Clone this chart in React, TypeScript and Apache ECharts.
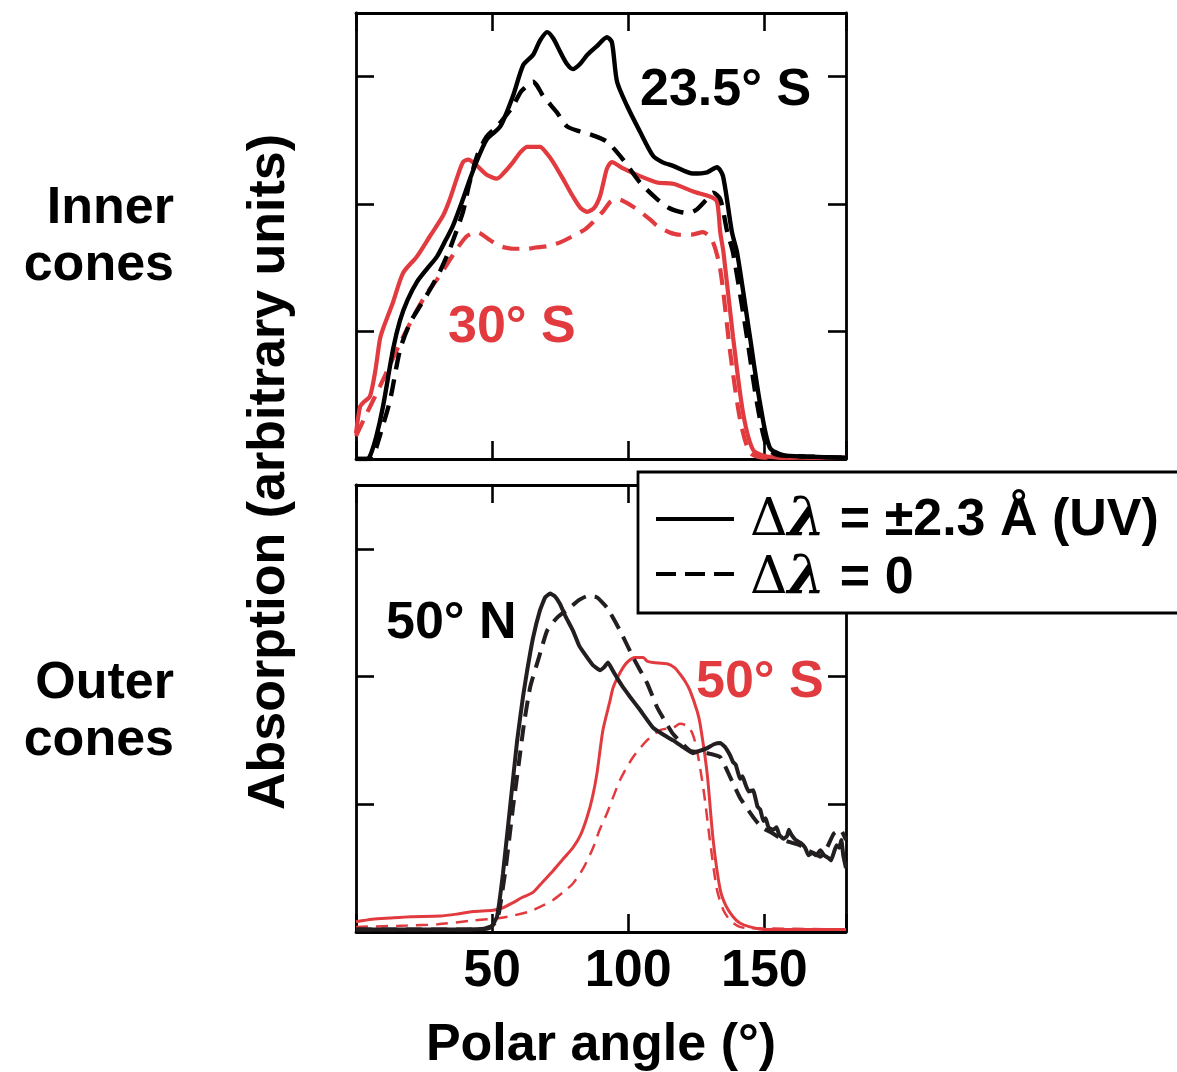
import React, { useEffect, useRef } from "react";
import * as echarts from "echarts";

// ---- data (polar angle in degrees, absorption in arbitrary units) ----
const xTicks = [0, 50, 100, 150];
const yTicks = [0, 1, 2, 3];

const inner23Solid: [number, number][] = [
  [0, 0], [4, 0], [5.1, 0.02], [7.5, 0.18], [9.9, 0.41], [13.6, 0.86], [16.2, 1.09], [19, 1.25],
  [22.4, 1.39], [26, 1.49], [29.8, 1.59], [33, 1.72], [35.6, 1.83], [39.3, 2.04], [41.9, 2.2], [45, 2.37],
  [48.1, 2.51], [53, 2.61], [57.7, 2.85], [61.4, 3.09], [65, 3.17], [67.5, 3.28], [70.2, 3.35], [72.5, 3.3],
  [74.9, 3.2], [77.5, 3.1], [79.7, 3.06], [82.3, 3.1], [84.9, 3.17], [88.5, 3.24], [92.2, 3.31], [94, 3.27],
  [95.9, 2.96], [99.6, 2.77], [104.3, 2.57], [109.1, 2.38], [112.5, 2.33], [116.5, 2.3], [123.8, 2.24],
  [129, 2.25], [132.6, 2.29], [134.8, 2.22], [138.1, 1.78], [140, 1.62], [144.7, 0.96], [148.4, 0.44],
  [152, 0.09], [157, 0.03], [165, 0.02], [180, 0.01],
];
const inner23Dash: [number, number][] = [
  [0, 0], [5, 0], [6.5, 0.03], [9, 0.2], [12.5, 0.46], [16.2, 0.86], [19.9, 1.07], [23.5, 1.2], [27.2, 1.33],
  [31, 1.48], [34.5, 1.65], [39.3, 1.94], [41.5, 2.15], [44.5, 2.38], [48, 2.53], [51.8, 2.61], [54.5, 2.68],
  [57.7, 2.77], [60.5, 2.88], [62.9, 2.93], [65, 2.96], [66.5, 2.93], [68.7, 2.85], [73.8, 2.72], [77.5, 2.61],
  [82.3, 2.57], [87, 2.54], [92.2, 2.49], [98.1, 2.35], [104.3, 2.17], [110.6, 2.04], [115, 1.97], [119, 1.94],
  [122, 1.93], [125.3, 1.96], [128.5, 2.03], [131.2, 2.09], [133.8, 2.04], [136.4, 1.78], [138.5, 1.62],
  [143.6, 0.96], [147.3, 0.44], [151, 0.09], [155, 0.03], [165, 0.02], [180, 0.01],
];
const inner30Solid: [number, number][] = [
  [0, 0.2], [1.5, 0.41], [3, 0.45], [5.1, 0.49], [7, 0.68], [8.8, 0.94], [9.9, 1.02], [13.6, 1.23],
  [17.3, 1.46], [22.4, 1.59], [27.2, 1.75], [32, 1.91], [34.5, 2.04], [37, 2.2], [39.3, 2.33], [41.2, 2.35],
  [44.5, 2.3], [48, 2.23], [51.8, 2.2], [54.5, 2.25], [57.7, 2.33], [60.5, 2.41], [62.9, 2.45], [67.6, 2.45],
  [70, 2.4], [72.4, 2.33], [76, 2.2], [79.7, 2.06], [82.5, 1.97], [84.9, 1.94], [87.5, 1.97], [89.6, 2.06],
  [91, 2.18], [92.2, 2.28], [94, 2.33], [98.1, 2.28], [104.3, 2.22], [110.6, 2.17], [116.5, 2.16],
  [123.8, 2.1], [130, 2.06], [132.6, 2.02], [133.8, 1.78], [135, 1.62], [138.5, 0.96], [142.2, 0.36],
  [145.9, 0.07], [151, 0.02], [160, 0.01], [180, 0.01],
];
const inner30Dash: [number, number][] = [
  [0, 0.18], [4, 0.36], [8.8, 0.57], [12.5, 0.74], [16.2, 0.91], [22.4, 1.17], [26, 1.3], [29.8, 1.41],
  [33.5, 1.53], [37.1, 1.65], [40.8, 1.75], [44.5, 1.78], [49, 1.72], [53, 1.67], [58, 1.65], [62.9, 1.65],
  [66, 1.66], [70.2, 1.67], [75, 1.7], [79.7, 1.75], [84, 1.8], [87.1, 1.86], [91, 1.95], [93.5, 2.02],
  [95.9, 2.04], [101.8, 1.98], [108, 1.88], [110.6, 1.83], [115, 1.78], [119, 1.76], [123, 1.76],
  [127.5, 1.78], [130.8, 1.72], [133.8, 1.49], [137.5, 0.83], [141.1, 0.31], [144.7, 0.05], [150, 0.01], [180, 0.01],
];

const outer50NSolid: [number, number][] = [
  [0, 0.02], [20, 0.02], [40, 0.02], [47, 0.025], [50, 0.05], [51.8, 0.12], [54, 0.46], [56.6, 0.98],
  [59.2, 1.5], [61.4, 1.85], [62.9, 2.05], [65, 2.3], [67.6, 2.52], [69.5, 2.62], [71.3, 2.65], [73, 2.63],
  [74.9, 2.57], [77, 2.47], [79.7, 2.36], [82, 2.24], [84.9, 2.15], [87, 2.09], [89.6, 2.05], [91, 2.07],
  [92.6, 2.11], [94, 2.06], [95.9, 1.99], [98, 1.92], [100.7, 1.84], [104.3, 1.74], [109.1, 1.6], [112.5, 1.55],
  [116.5, 1.5], [120, 1.45], [123.8, 1.4], [126.5, 1.42], [129, 1.44], [131.5, 1.47], [133.8, 1.48],
  [135.5, 1.45], [137.5, 1.38], [138.5, 1.33], [139.5, 1.31], [141.1, 1.2], [142, 1.22], [143, 1.16],
  [144.2, 1.1], [145.9, 1.11], [147.5, 0.98], [148.5, 0.96], [149.6, 0.87], [150.5, 0.89], [151.5, 0.82],
  [153.3, 0.8], [154.5, 0.82], [155.5, 0.76], [157, 0.73], [158.3, 0.75], [159, 0.8], [160, 0.76],
  [161.5, 0.72], [163.2, 0.7], [165, 0.66], [166.2, 0.6], [167.5, 0.62], [169, 0.6], [170.6, 0.64],
  [172, 0.6], [173.5, 0.58], [174.5, 0.56], [175.5, 0.62], [176.5, 0.68], [177.5, 0.66], [178.3, 0.72],
  [179, 0.6], [180, 0.5],
];
const outer50NDash: [number, number][] = [
  [0, 0.02], [45, 0.02], [49, 0.03], [51, 0.07], [52.5, 0.15], [55, 0.5], [57.7, 0.98], [60, 1.35],
  [61.7, 1.63], [64, 1.92], [67.2, 2.15], [70.2, 2.36], [73.8, 2.46], [78.6, 2.54], [82, 2.6], [84.9, 2.63],
  [88.5, 2.62], [92.2, 2.54], [97, 2.36], [101.8, 2.15], [106.9, 1.95], [110.6, 1.76], [113, 1.67],
  [116.5, 1.55], [122.7, 1.42], [129, 1.4], [133.8, 1.37], [137.5, 1.21], [141.1, 1.05], [145.9, 0.9],
  [149, 0.82], [153.3, 0.77], [157, 0.72], [160, 0.7], [163, 0.68], [165.7, 0.64], [168, 0.62], [170.6, 0.59],
  [173, 0.66], [175.5, 0.77], [178, 0.8], [180, 0.72],
];
const outer50SSolid: [number, number][] = [
  [0, 0.08], [6, 0.1], [12.5, 0.11], [20, 0.12], [30.9, 0.125], [37, 0.14], [43, 0.16], [50.3, 0.17],
  [54, 0.19], [57.7, 0.23], [61, 0.27], [65, 0.31], [68.5, 0.39], [72.4, 0.48], [76, 0.57], [79.7, 0.66],
  [82.5, 0.76], [84.9, 0.9], [86.8, 1.05], [88.5, 1.24], [90.7, 1.58], [93.3, 1.81], [94.4, 1.91], [96, 1.99],
  [98.1, 2.07], [100, 2.12], [102.5, 2.15], [105.5, 2.15], [107, 2.12], [109.1, 2.11], [114.3, 2.1],
  [117, 2.07], [119, 2.02], [121, 1.96], [122.7, 1.89], [125.3, 1.73], [126.4, 1.63], [129, 1.24],
  [131.2, 0.72], [133.8, 0.33], [136, 0.2], [138.5, 0.12], [141, 0.07], [144.7, 0.04], [150, 0.02], [180, 0.02],
];
const outer50SDash: [number, number][] = [
  [0, 0.04], [18.7, 0.05], [30, 0.06], [43, 0.09], [53, 0.11], [58, 0.13], [63.6, 0.16], [68, 0.2],
  [72.4, 0.25], [76, 0.31], [79.7, 0.38], [83.5, 0.5], [87.1, 0.66], [89.5, 0.8], [92.2, 0.93], [97, 1.19],
  [101.8, 1.37], [106.9, 1.5], [111.7, 1.58], [116.5, 1.6], [119, 1.63], [121, 1.62], [122.7, 1.59],
  [124, 1.53], [125.3, 1.42], [127.7, 1.11], [130, 0.72], [132.6, 0.33], [135, 0.17], [137.5, 0.09],
  [141, 0.04], [145, 0.03], [180, 0.02],
];

const panelLabels = ["23.5° S", "30° S", "50° N", "50° S"];
const rowLabels = ["Inner\ncones", "Outer\ncones"];
const legendLabels = [" = ±2.3 Å (UV)", " = 0"];

const RED = "#e23b3f";
const BLACK = "#000000";
const FONT = "'Liberation Sans', Arial, Helvetica, sans-serif";

export default function App() {
  const ref = useRef<HTMLDivElement>(null);
  useEffect(() => {
    if (!ref.current) return;
    const chart = echarts.init(ref.current, null, { renderer: "svg" });

    const axisLine = { show: true, onZero: false, lineStyle: { color: BLACK, width: 2.8 } };
    const axisTick = { show: true, inside: true, length: 18, lineStyle: { color: BLACK, width: 2.6 } };
    const xBase = (grid: number, position: string, labels: boolean) => ({
      type: "value", gridIndex: grid, position, min: 0, max: 180, interval: 50,
      axisLine, axisTick, splitLine: { show: false },
      axisLabel: labels
        ? { show: true, margin: 10, fontFamily: FONT, fontWeight: "bold", fontSize: 52, color: BLACK,
            formatter: (v: number) => (xTicks.includes(v) && v !== 0 ? String(v) : "") }
        : { show: false },
    });
    const yBase = (grid: number, position: string) => ({
      type: "value", gridIndex: grid, position, min: yTicks[0], max: 3.5, interval: 1,
      axisLine, axisTick, splitLine: { show: false }, axisLabel: { show: false },
    });

    const line = (data: [number, number][], color: string, width: number, dash: number[] | null, grid: number, smooth = 0.25) => ({
      type: "line", data, xAxisIndex: grid === 0 ? 0 : 2, yAxisIndex: grid === 0 ? 0 : 2,
      showSymbol: false, symbol: "none", smooth,
      lineStyle: { color, width, type: dash ? dash : "solid" },
    });

    const bigText = (text: string, x: number, y: number, color: string, align = "left") => ({
      type: "text", x, y, z: 100,
      style: { text, fill: color, font: `bold 52px ${FONT}`, textAlign: align, textVerticalAlign: "middle" },
    });

    const legendRich = {
      d: { fontFamily: "'DejaVu Serif', serif", fontSize: 52, color: BLACK, lineHeight: 46 },
      l: { fontFamily: "'DejaVu Serif', serif", fontSize: 54, fontWeight: "bold", fontStyle: "italic", color: BLACK, lineHeight: 46 },
      t: { fontFamily: FONT, fontSize: 52, fontWeight: "bold", color: BLACK, lineHeight: 46 },
    };

    chart.setOption({
      animation: false,
      backgroundColor: "#ffffff",
      grid: [
        { left: 356, top: 13, width: 490, height: 446 },
        { left: 356, top: 485, width: 490, height: 447 },
      ],
      xAxis: [xBase(0, "bottom", false), xBase(0, "top", false), xBase(1, "bottom", true), xBase(1, "top", false)],
      yAxis: [yBase(0, "left"), yBase(0, "right"), yBase(1, "left"), yBase(1, "right")],
      series: [
        line(inner30Dash, RED, 4.2, [17, 10], 0),
        line(inner30Solid, RED, 4.2, null, 0),
        line(inner23Dash, BLACK, 4.4, [17, 10], 0),
        line(inner23Solid, BLACK, 4.4, null, 0),
        line(outer50SDash, RED, 2.5, [12, 8], 1),
        line(outer50SSolid, RED, 3, null, 1),
        line(outer50NDash, "#231f20", 4, [16, 9], 1, 0.15),
        line(outer50NSolid, "#231f20", 4, null, 1, 0.1),
      ],
      graphic: [
        bigText(panelLabels[0], 640, 87, BLACK),
        bigText(panelLabels[1], 448, 324, RED),
        bigText(panelLabels[2], 386, 620, BLACK),
        bigText(panelLabels[3], 696, 679, RED),
        {
          type: "text", x: 174, y: 233, z: 100,
          style: { text: rowLabels[0], fill: BLACK, font: `bold 52px ${FONT}`, lineHeight: 57,
            textAlign: "right", textVerticalAlign: "middle" },
        },
        {
          type: "text", x: 174, y: 708, z: 100,
          style: { text: rowLabels[1], fill: BLACK, font: `bold 52px ${FONT}`, lineHeight: 57,
            textAlign: "right", textVerticalAlign: "middle" },
        },
        {
          type: "text", x: 266, y: 472, rotation: Math.PI / 2, z: 100,
          style: { text: "Absorption (arbitrary units)", fill: BLACK, font: `bold 52px ${FONT}`,
            textAlign: "center", textVerticalAlign: "middle" },
        },
        {
          type: "text", x: 601, y: 1042, z: 100,
          style: { text: "Polar angle (°)", fill: BLACK, font: `bold 52px ${FONT}`,
            textAlign: "center", textVerticalAlign: "middle" },
        },
        // legend box
        {
          type: "rect", z: 90, shape: { x: 638, y: 472, width: 580, height: 141 },
          style: { fill: "#ffffff", stroke: BLACK, lineWidth: 2.8 },
        },
        {
          type: "line", z: 95, shape: { x1: 656, y1: 519, x2: 734, y2: 519 },
          style: { stroke: BLACK, lineWidth: 4 },
        },
        {
          type: "line", z: 95, shape: { x1: 656, y1: 574, x2: 734, y2: 574 },
          style: { stroke: BLACK, lineWidth: 4, lineDash: [20, 9] },
        },
        {
          type: "text", x: 750, y: 517, z: 100,
          style: { text: "{d|Δ}{l|λ}{t|" + legendLabels[0] + "}", textVerticalAlign: "middle", rich: legendRich },
        },
        {
          type: "text", x: 750, y: 575, z: 100,
          style: { text: "{d|Δ}{l|λ}{t|" + legendLabels[1] + "}", textVerticalAlign: "middle", rich: legendRich },
        },
      ],
    });
    return () => chart.dispose();
  }, []);
  return (
    <div
      ref={ref}
      style={{ position: "absolute", left: 0, top: 0, width: 1177, height: 1072, background: "#fff" }}
    />
  );
}
